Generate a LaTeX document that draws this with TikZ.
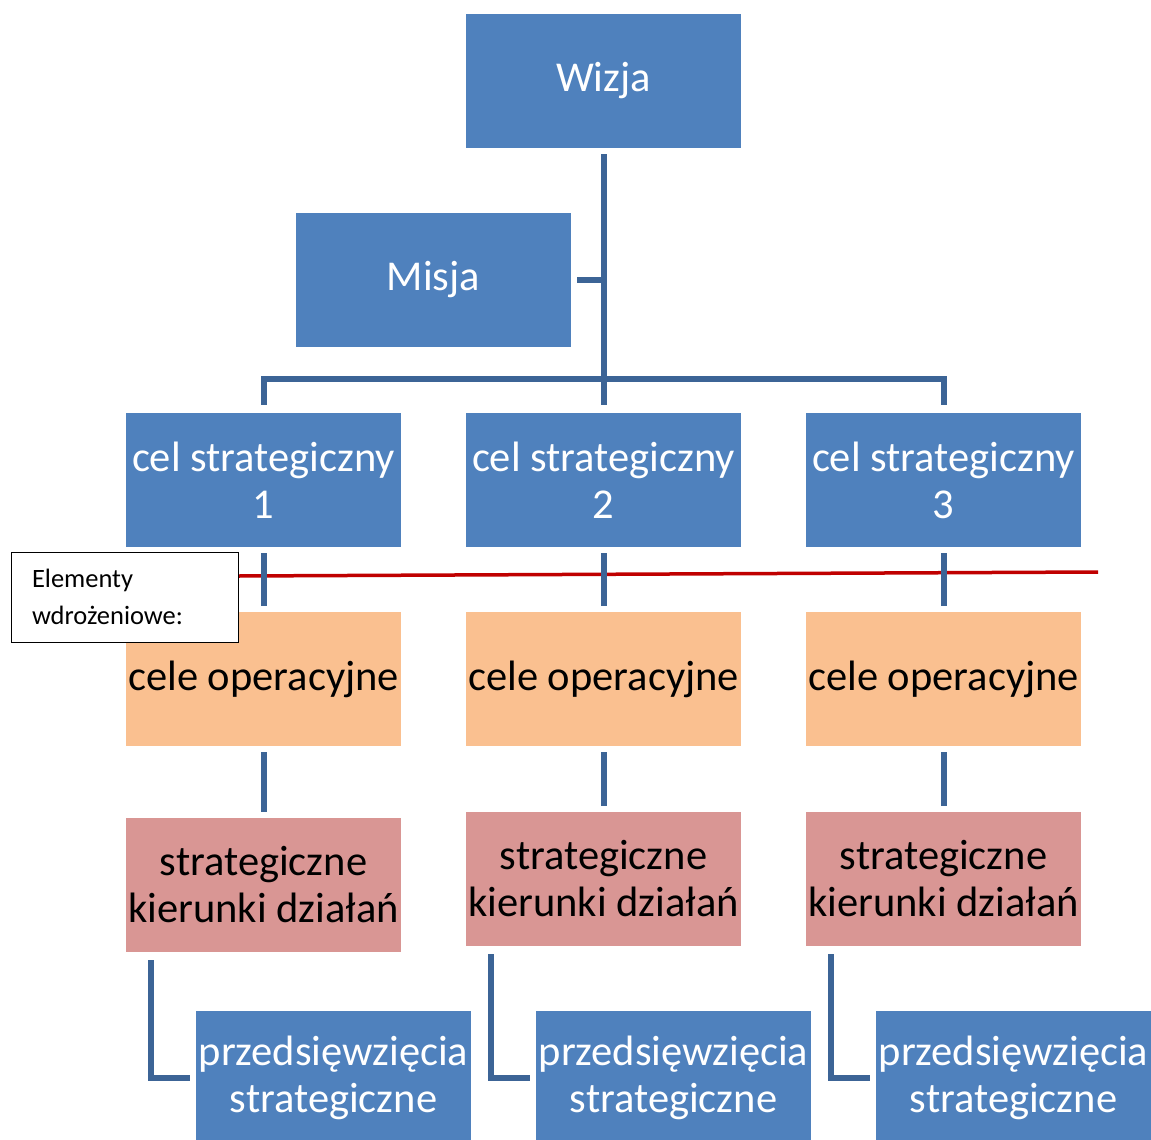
\documentclass[tikz,border=0pt]{standalone}
\usepackage{fontspec}
\setmainfont{Carlito}
\definecolor{bblue}{RGB}{79,129,189}
\definecolor{lblue}{RGB}{60,100,150}
\definecolor{borange}{RGB}{250,192,144}
\definecolor{bpink}{RGB}{217,150,148}
\definecolor{rline}{RGB}{192,0,0}
\tikzset{
  box/.style={minimum width=275pt, minimum height=134pt, inner sep=0pt, align=center,
    font=\fontsize{42.5}{47}\selectfont},
  bluebox/.style={box, fill=bblue, text=white},
  opbox/.style={box, fill=borange, text=black},
  kierbox/.style={box, fill=bpink, text=black},
  conn/.style={draw=lblue, line width=6pt},
  redl/.style={draw=rline, line width=3.5pt},
  elembox/.style={draw=black, fill=white, line width=1pt, minimum height=90pt,
    text width=185pt, inner xsep=21pt, align=left, font=\fontsize{26.5}{37}\selectfont}
}
\begin{document}
\begin{tikzpicture}[x=1pt,y=-1pt]
\path[use as bounding box] (0,0) rectangle (1151,1140);
% boxes
\node[bluebox] (wizja) at (603.5,81) {Wizja};
\node[bluebox] (misja) at (433.5,280) {Misja};
\node[bluebox] (cel1) at (263.5,480) {cel strategiczny\\1};
\node[bluebox] (cel2) at (603.5,480) {cel strategiczny\\2};
\node[bluebox] (cel3) at (943.5,480) {cel strategiczny\\3};
\node[opbox] (op1) at (263.5,679) {cele operacyjne};
\node[opbox] (op2) at (603.5,679) {cele operacyjne};
\node[opbox] (op3) at (943.5,679) {cele operacyjne};
\node[kierbox] (kier1) at (263.5,885) {strategiczne\\kierunki działań};
\node[kierbox] (kier2) at (603.5,879) {strategiczne\\kierunki działań};
\node[kierbox] (kier3) at (943.5,879) {strategiczne\\kierunki działań};
\node[bluebox] (prz1) at (333.5,1078) {przedsięwzięcia\\strategiczne};
\node[bluebox] (prz2) at (673.5,1078) {przedsięwzięcia\\strategiczne};
\node[bluebox] (prz3) at (1013.5,1078) {przedsięwzięcia\\strategiczne};
% Elementy label box
\node[elembox] (elem) at (124.5,597) {Elementy\\wdrożeniowe:};
\coordinate (redend) at (1098,572);
\coordinate (bar) at (603,379);
% red line (behind connectors)
\draw[redl] ([yshift=21pt]elem.east) -- (redend);
% connectors
\draw[conn, shorten <=6pt, shorten >=8pt] (wizja.south) -- (cel2.north);
\draw[conn, shorten <=6pt] (misja.east) -- (misja.east -| wizja.south);
\draw[conn, shorten <=8pt, shorten >=8pt] (cel1.north) -- (cel1.north |- bar) -- (cel3.north |- bar) -- (cel3.north);
\foreach \i in {1,2,3}{
  \draw[conn, shorten <=6pt, shorten >=6pt] (cel\i.south) -- (op\i.north);
  \draw[conn, shorten <=6pt, shorten >=6pt] (op\i.south) -- (kier\i.north);
  \draw[conn, shorten <=8pt, shorten >=6pt] ([xshift=25pt]kier\i.south west) |- (prz\i.west);
}
% redraw label box on top
\node[elembox] at (elem) {Elementy\\wdrożeniowe:};
\end{tikzpicture}
\end{document}
